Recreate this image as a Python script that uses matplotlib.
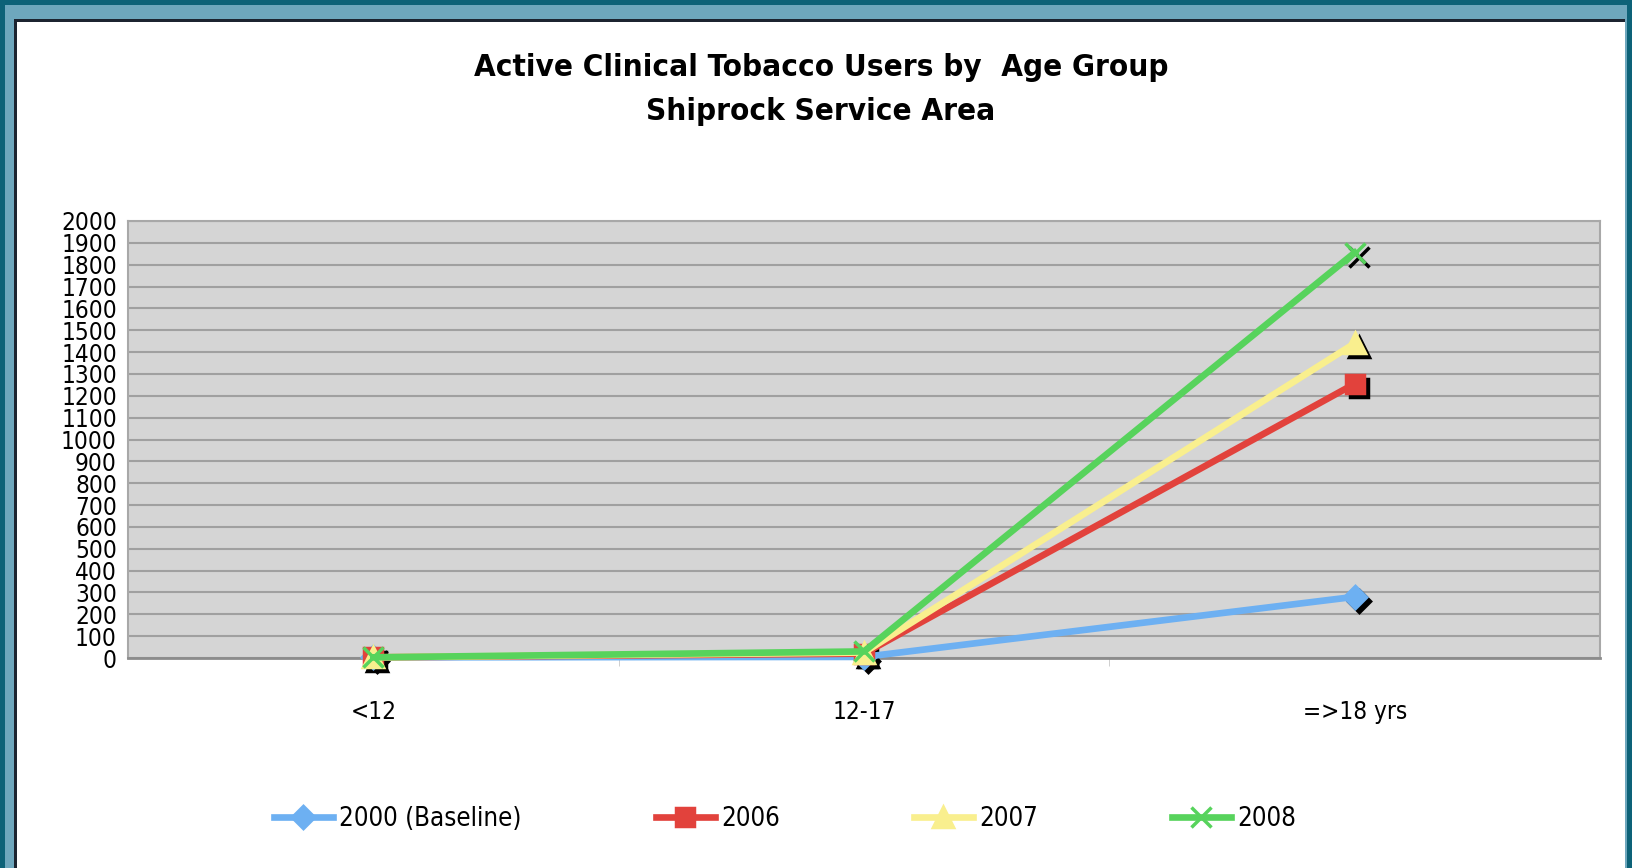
import matplotlib.pyplot as plt
import matplotlib.transforms as mtransforms
from matplotlib.patches import Rectangle
import numpy as np

# data
age_groups = ["<12", "12-17", "=>18 yrs"]
series_names = ["2000 (Baseline)", "2006", "2007", "2008"]
users_2000 = [3, 5, 280]
users_2006 = [3, 20, 1255]
users_2007 = [3, 25, 1440]
users_2008 = [3, 30, 1855]
y_ticks = list(range(0, 2001, 100))

colors = ["#6db0f2", "#e2423c", "#f9ef8e", "#57d35c"]
markers = ["D", "s", "^", "x"]
msizes = [11, 13, 14, 15]

fig = plt.figure(figsize=(16.32, 8.68), dpi=100)
fig.patch.set_facecolor("#0d6278")

# slide frame
W, H = 1632, 868
fig.patches.append(Rectangle((5 / W, 0), 1 - 10 / W, 1 - 5 / H, transform=fig.transFigure,
                             facecolor="#6ea7bd", edgecolor="none", zorder=-3))
fig.patches.append(Rectangle((14 / W, 0), 1 - 21 / W, 1 - 19 / H, transform=fig.transFigure,
                             facecolor="#1c2430", edgecolor="none", zorder=-2))
fig.patches.append(Rectangle((17 / W, 0), 1 - 24 / W, 1 - 22 / H, transform=fig.transFigure,
                             facecolor="white", edgecolor="none", zorder=-1))

ax = fig.add_axes([128 / W, 1 - 658 / H, 1472 / W, 437 / H])
ax.set_zorder(5)
ax.set_facecolor("#d5d5d5")

x = np.arange(len(age_groups))
all_series = [users_2000, users_2006, users_2007, users_2008]

# markers get a black drop shadow like the original chart
shadow = mtransforms.offset_copy(ax.transData, fig=fig, x=4, y=-4, units="dots")
for vals, c, m, ms, name in zip(all_series, colors, markers, msizes, series_names):
    ax.plot(x, vals, linestyle="none", marker=m, markersize=ms, mew=2.5,
            color="black", transform=shadow, zorder=3, clip_on=False)
    ax.plot(x, vals, color=c, lw=4.8, marker=m, markersize=ms, mew=2.5,
            label=name, zorder=4, clip_on=False)

ax.set_xlim(-0.5, 2.5)
ax.set_ylim(0, 2000)
ax.set_yticks(y_ticks)
ax.set_yticklabels([str(v) for v in y_ticks], fontsize=17.5, family="DejaVu Sans",
                   fontstretch="condensed")
ax.set_xticks(x)
ax.set_xticklabels(age_groups, fontsize=17.5, family="DejaVu Sans", fontstretch="condensed")
ax.set_xticks([0.5, 1.5], minor=True)
ax.tick_params(axis="y", length=0, pad=8)
ax.tick_params(axis="x", which="major", length=0, pad=30)
ax.tick_params(axis="x", which="minor", length=6, color="#c8c8c8", direction="out")
ax.yaxis.grid(True, color="#a0a0a0", lw=1.5)
ax.set_axisbelow(True)
for s in ["left", "top", "right"]:
    ax.spines[s].set_color("#a8a8a8")
    ax.spines[s].set_linewidth(1.5)
ax.spines["bottom"].set_color("#8c8c8c")
ax.spines["bottom"].set_linewidth(2)

fig.text(821 / W, 1 - 68 / H, "Active Clinical Tobacco Users by  Age Group",
         ha="center", va="center", fontsize=22.5, fontweight="bold",
         family="DejaVu Sans", fontstretch="condensed")
fig.text(821 / W, 1 - 112 / H, "Shiprock Service Area",
         ha="center", va="center", fontsize=22.5, fontweight="bold",
         family="DejaVu Sans", fontstretch="condensed")

handles, labels = ax.get_legend_handles_labels()
leg = fig.legend(handles, labels, loc="center", bbox_to_anchor=(785 / W, 1 - 819 / H),
                 ncol=4, frameon=False, handlelength=2.3, handletextpad=0.25,
                 columnspacing=5.2, prop={"family": "DejaVu Sans", "stretch": "condensed",
                                          "size": 18.5})

fig.savefig("out.png", dpi=100, facecolor=fig.get_facecolor())
